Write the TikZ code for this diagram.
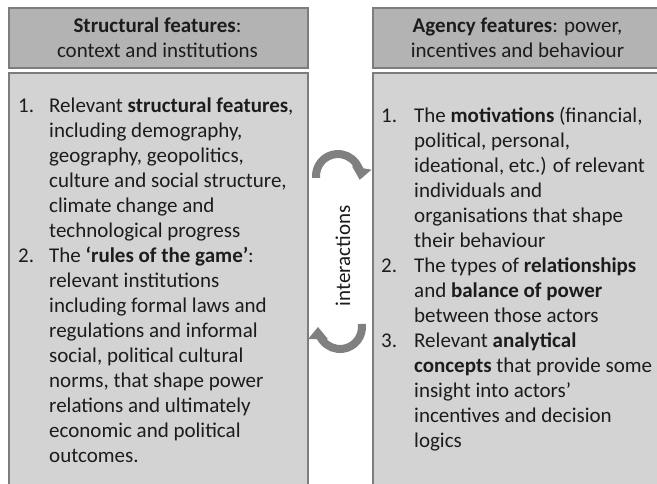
\documentclass[tikz,border=0pt]{standalone}
\usepackage{fontspec}
\setmainfont{Carlito}
\usetikzlibrary{arrows.meta}
\definecolor{headfill}{RGB}{179,179,179}
\definecolor{bodyfill}{RGB}{211,211,211}
\definecolor{edgegray}{RGB}{125,125,125}
\definecolor{inkgray}{RGB}{28,28,28}
\definecolor{arrowgray}{RGB}{128,128,128}

\begin{document}
\begin{tikzpicture}[x=1pt,y=1pt,
  panel/.style={draw=edgegray, line width=1.6pt, rectangle, inner sep=0pt, anchor=north west},
  headbox/.style={panel, fill=headfill, minimum width=299pt, minimum height=60pt},
  bodybox/.style={panel, fill=bodyfill, minimum width=299pt, minimum height=430pt},
  txt/.style={inner sep=0pt, text=inkgray, font=\fontsize{21}{25}\selectfont},
  turn/.style={draw=arrowgray, line width=8pt, -{Triangle[width=19pt,length=12pt]}},
]
\useasboundingbox (0,0) rectangle (657,-483);
\clip (0,0) rectangle (657,-483);
\fill[white] (0,0) rectangle (657,-483);

% panels
\node[headbox] (lhead) at (8,-7) {};
\node[bodybox] (lbody) at (8,-72) {};
\node[headbox] (rhead) at (372,-7) {};
\node[bodybox] (rbody) at (372,-72) {};

% headings
\node[txt, anchor=base] (lhtext) at (157.5,-32) {\begin{tabular}[t]{@{}c@{}}\textbf{Structural features}:\\ context and institutions\end{tabular}};
\node[txt, anchor=base] (rhtext) at (517.5,-32) {\begin{tabular}[t]{@{}c@{}}\textbf{Agency features}: power,\\ incentives and behaviour\end{tabular}};

% structural list
\node[txt, anchor=base west] (llist) at (18,-112) {\begin{tabular}[t]{@{}p{31pt}@{}l@{}}
1. & Relevant \textbf{structural features},\\
   & including demography,\\
   & geography, geopolitics,\\
   & culture and social structure,\\
   & climate change and\\
   & technological progress\\
2. & The \textbf{‘rules of the game’}:\\
   & relevant institutions\\
   & including formal laws and\\
   & regulations and informal\\
   & social, political cultural\\
   & norms, that shape power\\
   & relations and ultimately\\
   & economic and political\\
   & outcomes.
\end{tabular}};

% agency list
\node[txt, anchor=base west] (rlist) at (381,-122) {\begin{tabular}[t]{@{}p{33pt}@{}l@{}}
1. & The \textbf{motivations} (financial,\\
   & political, personal,\\
   & ideational, etc.) of relevant\\
   & individuals and\\
   & organisations that shape\\
   & their behaviour\\
2. & The types of \textbf{relationships}\\
   & and \textbf{balance of power}\\
   & between those actors\\
3. & Relevant \textbf{analytical}\\
   & \textbf{concepts} that provide some\\
   & insight into actors’\\
   & incentives and decision\\
   & logics
\end{tabular}};

% interaction arrows and label
\coordinate (topc) at (338,-176);
\coordinate (botc) at (340,-327);
\draw[turn] (topc) ++(185:22) arc[start angle=185, end angle=-10, radius=22];
\draw[turn] (botc) ++(8:22) arc[start angle=8, end angle=-180, radius=22];
\node[txt, rotate=90] (inter) at (343,-256) {interactions};
\end{tikzpicture}
\end{document}
